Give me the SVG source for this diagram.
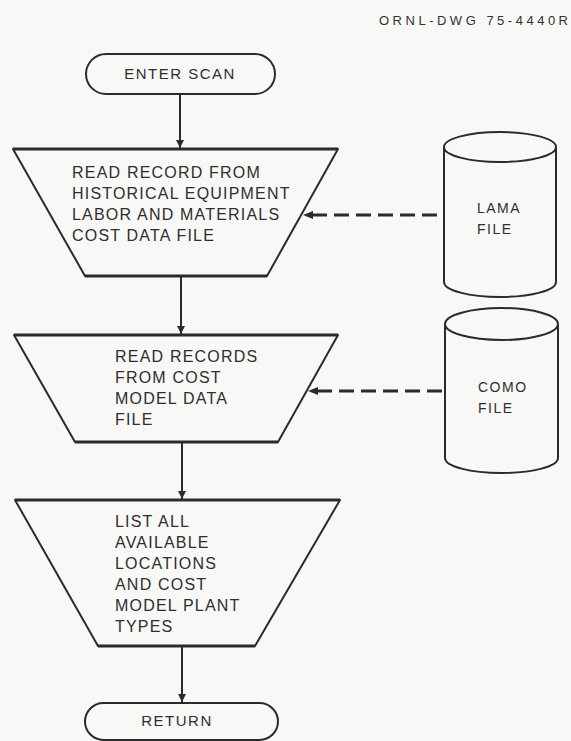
<svg xmlns="http://www.w3.org/2000/svg" width="571" height="741" viewBox="0 0 571 741">
  <style>
    .shape { fill: none; stroke: #2b2b2b; stroke-width: 2; stroke-linejoin: round; }
    .top { stroke-width: 3; }
    .lbl { font-family: "Liberation Sans", Arial, sans-serif; font-size: 16px; letter-spacing: 1.2px; fill: #2e2e2e; }
    .term { font-family: "Liberation Sans", Arial, sans-serif; font-size: 15px; letter-spacing: 1.5px; fill: #2e2e2e; text-anchor: middle; }
    .file { font-family: "Liberation Sans", Arial, sans-serif; font-size: 14px; letter-spacing: 1.5px; fill: #2e2e2e; }
    .flow { stroke: #2b2b2b; stroke-width: 2; fill: none; marker-end: url(#arr); }
    .dash { stroke: #2b2b2b; stroke-width: 3; fill: none; stroke-dasharray: 15 7; }
  </style>
  <defs>
    <marker id="arr" viewBox="0 0 10 10" refX="10" refY="5" markerWidth="4" markerHeight="4" orient="auto">
      <path d="M0,0 L10,5 L0,10 z" fill="#2b2b2b"/>
    </marker>
  </defs>
  <rect width="571" height="741" fill="#f8f8f6"/>

  <text id="drawing-number" x="379" y="25" font-family="Liberation Sans, Arial, sans-serif" font-size="13" fill="#333" textLength="189">ORNL-DWG 75-4440R</text>

  <g id="enter-scan">
    <rect class="shape" x="86" y="54" width="189" height="40" rx="20" ry="20"/>
    <text class="term" x="180" y="79">ENTER SCAN</text>
  </g>

  <g id="read-lama">
    <path class="shape" d="M85,276 L13,149 L338,149 L267,276 Z"/>
    <line class="shape top" x1="13" y1="149" x2="338" y2="149"/>
    <line class="shape top" x1="85" y1="276" x2="267" y2="276"/>
    <text class="lbl" x="72" y="178">READ RECORD FROM</text>
    <text class="lbl" x="72" y="199">HISTORICAL EQUIPMENT</text>
    <text class="lbl" x="72" y="220">LABOR AND MATERIALS</text>
    <text class="lbl" x="72" y="241">COST DATA FILE</text>
  </g>

  <g id="lama-file">
    <path class="shape" d="M444,147 L444,282 A56,15 0 0 0 556,282 L556,147"/>
    <ellipse class="shape" cx="500" cy="147" rx="56" ry="15"/>
    <text class="file" x="477" y="213">LAMA</text>
    <text class="file" x="477" y="234">FILE</text>
  </g>

  <g id="read-como">
    <path class="shape" d="M75,442 L14,335 L338,335 L278,442 Z"/>
    <line class="shape top" x1="14" y1="335" x2="338" y2="335"/>
    <line class="shape top" x1="75" y1="442" x2="278" y2="442"/>
    <text class="lbl" x="115" y="362">READ RECORDS</text>
    <text class="lbl" x="115" y="383">FROM COST</text>
    <text class="lbl" x="115" y="404">MODEL DATA</text>
    <text class="lbl" x="115" y="425">FILE</text>
  </g>

  <g id="como-file">
    <path class="shape" d="M445,324 L445,458 A56.5,15 0 0 0 558,458 L558,324"/>
    <ellipse class="shape" cx="501.5" cy="324" rx="56.5" ry="16"/>
    <text class="file" x="478" y="392">COMO</text>
    <text class="file" x="478" y="413">FILE</text>
  </g>

  <g id="list-all">
    <path class="shape" d="M98,646 L15,500 L340,500 L255,646 Z"/>
    <line class="shape top" x1="15" y1="500" x2="340" y2="500"/>
    <line class="shape top" x1="98" y1="646" x2="255" y2="646"/>
    <text class="lbl" x="115" y="527">LIST ALL</text>
    <text class="lbl" x="115" y="548">AVAILABLE</text>
    <text class="lbl" x="115" y="569">LOCATIONS</text>
    <text class="lbl" x="115" y="590">AND COST</text>
    <text class="lbl" x="115" y="611">MODEL PLANT</text>
    <text class="lbl" x="115" y="632">TYPES</text>
  </g>

  <g id="return">
    <rect class="shape" x="85" y="703" width="193" height="37" rx="18.5" ry="18.5"/>
    <text class="term" x="177" y="726">RETURN</text>
  </g>

  <g id="connectors">
    <line class="flow" x1="180" y1="94" x2="180" y2="148"/>
    <line class="flow" x1="181" y1="276" x2="181" y2="334"/>
    <line class="flow" x1="182" y1="442" x2="182" y2="499"/>
    <line class="flow" x1="182" y1="646" x2="182" y2="702"/>
    <line class="dash" x1="437" y1="215" x2="310" y2="215"/>
    <path d="M303,215 L313,211 L313,219 Z" fill="#2b2b2b"/>
    <line class="dash" x1="442" y1="391" x2="315" y2="391"/>
    <path d="M308,391 L318,387 L318,395 Z" fill="#2b2b2b"/>
  </g>
</svg>
